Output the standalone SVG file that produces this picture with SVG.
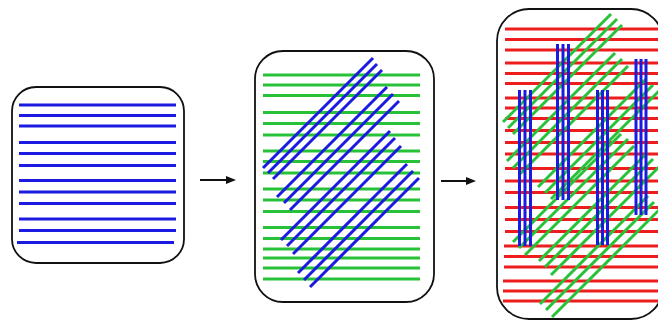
<svg xmlns="http://www.w3.org/2000/svg" width="658" height="320" viewBox="0 0 658 320">
<style>
.box{fill:#fff;stroke:#111;stroke-width:1.8}
.b{stroke:#1a1ae0;stroke-width:3;fill:none}
.g{stroke:#28c238;stroke-width:3;fill:none}
.r{stroke:#ee1d1d;stroke-width:3;fill:none}
.arr{stroke:#111;stroke-width:2;fill:none}
</style>
<defs>
<marker id="ah" markerUnits="userSpaceOnUse" viewBox="0 0 10 8" markerWidth="10" markerHeight="8" refX="0" refY="4" orient="auto">
<path d="M0,0 L10,4 L0,8 z" fill="#111"/>
</marker>
</defs>
<rect width="658" height="320" fill="#fff"/>

<g id="panel1">
<rect class="box" x="12" y="87" width="172" height="176" rx="24"/>
<g class="b">
<line x1="19" y1="105" x2="176" y2="105"/>
<line x1="19" y1="115.5" x2="176" y2="115.5"/>
<line x1="19" y1="126" x2="176" y2="126"/>
<line x1="19" y1="142.5" x2="176" y2="142.5"/>
<line x1="19" y1="153.5" x2="176" y2="153.5"/>
<line x1="19" y1="165.5" x2="176" y2="165.5"/>
<line x1="19" y1="180.5" x2="176" y2="180.5"/>
<line x1="19" y1="192" x2="176" y2="192"/>
<line x1="19" y1="203.5" x2="176" y2="203.5"/>
<line x1="19" y1="219" x2="176" y2="219"/>
<line x1="19" y1="230.5" x2="176" y2="230.5"/>
<line x1="17" y1="242.5" x2="174" y2="242.5"/>
</g>
</g>

<g id="panel2">
<rect class="box" x="255" y="51" width="179" height="251" rx="28"/>
<g class="g">
<line x1="263" y1="75" x2="420" y2="75"/>
<line x1="263" y1="85" x2="420" y2="85"/>
<line x1="263" y1="95.5" x2="420" y2="95.5"/>
<line x1="263" y1="112.5" x2="420" y2="112.5"/>
<line x1="263" y1="123.5" x2="420" y2="123.5"/>
<line x1="263" y1="135" x2="420" y2="135"/>
<line x1="263" y1="151" x2="420" y2="151"/>
<line x1="263" y1="161.5" x2="420" y2="161.5"/>
<line x1="263" y1="173" x2="420" y2="173"/>
<line x1="263" y1="189" x2="420" y2="189"/>
<line x1="263" y1="200" x2="420" y2="200"/>
<line x1="263" y1="211.5" x2="420" y2="211.5"/>
<line x1="263" y1="227.5" x2="420" y2="227.5"/>
<line x1="263" y1="238.5" x2="420" y2="238.5"/>
<line x1="263" y1="249" x2="420" y2="249"/>
<line x1="263" y1="258" x2="420" y2="258"/>
<line x1="263" y1="268" x2="420" y2="268"/>
<line x1="263" y1="279" x2="420" y2="279"/>
</g>
<g class="b">
<line x1="263" y1="168" x2="373" y2="58"/>
<line x1="268" y1="173" x2="377" y2="64"/>
<line x1="273" y1="179" x2="382" y2="70"/>
<line x1="277" y1="197" x2="387" y2="87"/>
<line x1="284" y1="203" x2="393" y2="94"/>
<line x1="290" y1="210" x2="399" y2="101"/>
<line x1="281" y1="240" x2="390" y2="131"/>
<line x1="287" y1="246" x2="395" y2="138"/>
<line x1="293" y1="254" x2="401" y2="146"/>
<line x1="298" y1="273" x2="407" y2="164"/>
<line x1="304" y1="280" x2="413" y2="171"/>
<line x1="310" y1="287" x2="419" y2="178"/>
</g>
</g>

<g id="panel3">
<rect class="box" x="497" y="9" width="166" height="310" rx="32"/>
<g class="r">
<line x1="505" y1="29" x2="658" y2="29"/>
<line x1="505" y1="39.5" x2="658" y2="39.5"/>
<line x1="505" y1="50" x2="658" y2="50"/>
<line x1="505" y1="63" x2="658" y2="63"/>
<line x1="505" y1="73.5" x2="658" y2="73.5"/>
<line x1="505" y1="83.5" x2="658" y2="83.5"/>
<line x1="505" y1="98" x2="658" y2="98"/>
<line x1="505" y1="108" x2="658" y2="108"/>
<line x1="505" y1="118.5" x2="658" y2="118.5"/>
<line x1="505" y1="130.5" x2="658" y2="130.5"/>
<line x1="505" y1="142.5" x2="658" y2="142.5"/>
<line x1="505" y1="154" x2="658" y2="154"/>
<line x1="505" y1="168.5" x2="658" y2="168.5"/>
<line x1="505" y1="181" x2="658" y2="181"/>
<line x1="505" y1="192.5" x2="658" y2="192.5"/>
<line x1="505" y1="207.5" x2="658" y2="207.5"/>
<line x1="505" y1="219.5" x2="658" y2="219.5"/>
<line x1="505" y1="231.5" x2="658" y2="231.5"/>
<line x1="504" y1="246" x2="658" y2="246"/>
<line x1="504" y1="256.5" x2="658" y2="256.5"/>
<line x1="504" y1="267" x2="658" y2="267"/>
<line x1="503" y1="281" x2="658" y2="281"/>
<line x1="503" y1="291" x2="658" y2="291"/>
<line x1="503" y1="301" x2="658" y2="301"/>
</g>
<g class="g">
<line x1="503" y1="122" x2="611" y2="14"/>
<line x1="508" y1="128" x2="617" y2="19"/>
<line x1="513" y1="134" x2="622" y2="25"/>
<line x1="507" y1="161" x2="615" y2="53"/>
<line x1="513" y1="168" x2="622" y2="59"/>
<line x1="519" y1="175" x2="628" y2="66"/>
<line x1="538" y1="187" x2="646" y2="79"/>
<line x1="545" y1="193" x2="653" y2="85"/>
<line x1="551" y1="199" x2="659" y2="91"/>
<line x1="513" y1="242" x2="621" y2="134"/>
<line x1="519" y1="248" x2="628" y2="139"/>
<line x1="525" y1="255" x2="634" y2="146"/>
<line x1="539" y1="261" x2="647" y2="153"/>
<line x1="545" y1="267" x2="653" y2="159"/>
<line x1="551" y1="275" x2="659" y2="167"/>
<line x1="540" y1="304" x2="648" y2="196"/>
<line x1="546" y1="310" x2="654" y2="202"/>
<line x1="552" y1="317" x2="660" y2="209"/>
</g>
<g class="b">
<line x1="519.5" y1="90" x2="519.5" y2="246"/>
<line x1="525" y1="90" x2="525" y2="246"/>
<line x1="530.5" y1="90" x2="530.5" y2="246"/>
<line x1="557.5" y1="44" x2="557.5" y2="200"/>
<line x1="563" y1="44" x2="563" y2="200"/>
<line x1="568.5" y1="44" x2="568.5" y2="200"/>
<line x1="597.5" y1="90" x2="597.5" y2="245"/>
<line x1="602.5" y1="90" x2="602.5" y2="245"/>
<line x1="607.5" y1="90" x2="607.5" y2="245"/>
<line x1="636" y1="59" x2="636" y2="215"/>
<line x1="641" y1="59" x2="641" y2="215"/>
<line x1="646" y1="59" x2="646" y2="215"/>
</g>
</g>

<g id="connectors">
<line class="arr" x1="200" y1="180" x2="226" y2="180" marker-end="url(#ah)"/>
<line class="arr" x1="441" y1="181" x2="466" y2="181" marker-end="url(#ah)"/>
</g>
</svg>
